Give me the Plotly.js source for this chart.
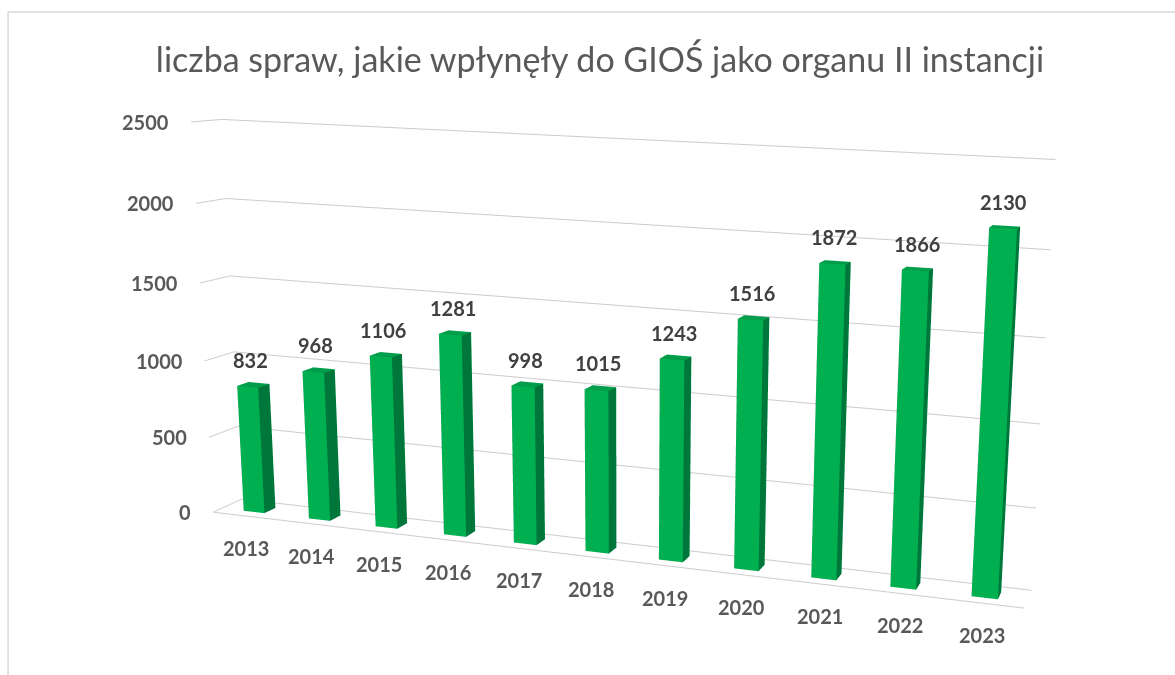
<!DOCTYPE html>
<html><head><meta charset="utf-8">
<script src="https://cdn.plot.ly/plotly-3.0.1.min.js"></script>
<style>
html,body{margin:0;padding:0;background:#fff;overflow:hidden;width:1175px;height:675px;}
#chart{position:absolute;left:-20px;top:-299px;width:1700px;height:1316px;}
</style></head><body><div id="chart"></div>
<script>
const years = ['2013','2014','2015','2016','2017','2018','2019','2020','2021','2022','2023'];
const cases = [832, 968, 1106, 1281, 998, 1015, 1243, 1516, 1872, 1866, 2130];
const valueTicks = [0, 500, 1000, 1500, 2000, 2500];
const chartTitle = 'liczba spraw, jakie wpłynęły do GIOŚ jako organu II instancji';

const X=[],Y=[],Z=[],I=[],J=[],K=[],FC=[];
const hw=0.16, d0=0.3, d1=0.7;
const cFront='#00B050', cSide='#00773A', cTop='#009E4A';
cases.forEach((v,n)=>{
  const b=X.length;
  const xs=[n-hw,n+hw], ys=[d0,d1], zs=[0,v];
  for(let iz=0;iz<2;iz++)for(let iy=0;iy<2;iy++)for(let ix=0;ix<2;ix++){X.push(xs[ix]);Y.push(ys[iy]);Z.push(zs[iz]);}
  const q=(a,bb,c,d,col)=>{I.push(b+a,b+a);J.push(b+bb,b+c);K.push(b+c,b+d);FC.push(col,col);};
  q(0,1,5,4,cFront);
  q(1,3,7,5,cSide);
  q(4,5,7,6,cTop);
  q(0,2,6,4,cSide); q(2,3,7,6,cFront); q(0,1,3,2,cSide);
});

const bars = {type:'mesh3d', x:X, y:Y, z:Z, i:I, j:J, k:K, facecolor:FC, flatshading:true,
  lighting:{ambient:1, diffuse:0, specular:0, roughness:1, fresnel:0}, hoverinfo:'skip', showscale:false};

const lblFont = {family:'Lato', size:20, color:'#404040', weight:'bold'};
const tickFont = {family:'Lato', size:20, color:'#595959', weight:'bold'};

const dataLabels = cases.map((v,n)=>({x:n, y:0.4, z:v, text:String(v), showarrow:false, yanchor:'bottom', yshift:12, font:lblFont}));
const yearLabels = years.map((t,n)=>({x:n, y:0, z:0, text:t, showarrow:false, yanchor:'middle', yshift:-32, font:tickFont}));
const valueLabels = valueTicks.map(t=>({x:-0.5, y:0, z:t, text:String(t), showarrow:false, xanchor:'right', xshift:-20, yanchor:'middle', font:tickFont}));

const layout = {
  width:1700, height:1316, margin:{l:0,r:0,t:0,b:0}, paper_bgcolor:'#fff', showlegend:false, hovermode:false,
  title:{text:chartTitle, font:{family:'Lato', size:34, color:'#595959'}, xref:'container', yref:'container', x:0.3647, y:0.7272, xanchor:'center', yanchor:'middle'},
  shapes:[{type:'rect', xref:'paper', yref:'paper', x0:0.0165, x1:1.01, y0:-0.01, y1:0.7637, line:{color:'#D9D9D9', width:1.5}}],
  scene:{
    domain:{x:[0,1],y:[0,1]},
    aspectmode:'manual', aspectratio:{x:2.052, y:0.118, z:0.975},
    camera:{projection:{type:'perspective'}, up:{x:-0.0791,y:0.1948,z:0.9777}, center:{x:0.519,y:0.134,z:-0.006}, eye:{x:1.434,y:-3.372,z:0.767}},
    xaxis:{range:[-0.5,10.5], tickvals:years.map((_,n)=>n), showticklabels:false, showgrid:false, showline:true, linecolor:'#CCCCCC', linewidth:2, zeroline:false, showbackground:false, ticks:'', title:{text:''}, showspikes:false},
    yaxis:{range:[0,1], showticklabels:false, showgrid:false, showline:false, zeroline:false, showbackground:false, ticks:'', title:{text:''}, showspikes:false},
    zaxis:{range:[0,2500], tickvals:valueTicks, showticklabels:false, showgrid:true, gridcolor:'#CCCCCC', gridwidth:2, showline:false, zeroline:false, showbackground:false, ticks:'', title:{text:''}, showspikes:false},
    annotations: dataLabels.concat(yearLabels, valueLabels)
  }
};
Plotly.newPlot('chart', [bars], layout, {displayModeBar:false});
</script></body></html>
